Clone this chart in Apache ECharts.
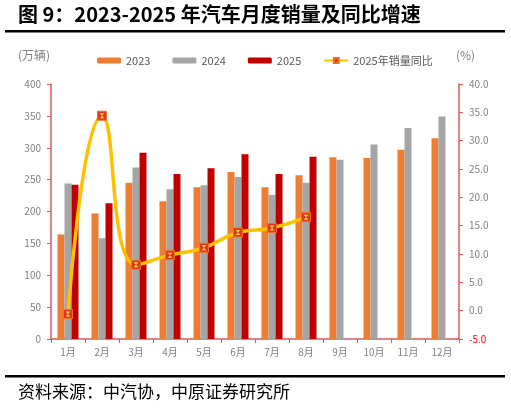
<!DOCTYPE html>
<html>
<head>
<meta charset="utf-8">
<script src="https://cdn.jsdelivr.net/npm/echarts@6/dist/echarts.min.js"></script>
<style>
html,body{margin:0;padding:0;background:#fff;}
#main{width:511px;height:409px;}
</style>
</head>
<body>
<div id="main"></div>
<script>
// 月份
var months = ['1月','2月','3月','4月','5月','6月','7月','8月','9月','10月','11月','12月'];
// 销量（万辆）
var sales2023 = [164, 197, 245, 216, 238, 262, 238, 257, 285, 284, 297, 315];
var sales2024 = [244, 158, 269, 235, 241, 254, 226, 245, 281, 305, 331, 349];
var sales2025 = [242, 213, 292, 259, 268, 290, 259, 286, null, null, null, null];
// 2025年销量同比（%）
var yoy2025 = [-0.6, 34.4, 8.1, 9.8, 11.1, 13.8, 14.6, 16.5];

var axisRed = '#DA5A5A';
var labelGray = '#7F7F7F';
var fontCJK = '"Noto Sans CJK SC", "Noto Sans", sans-serif';

var chart = echarts.init(document.getElementById('main'));

var option = {
    animation: false,
    textStyle: {fontFamily: fontCJK},
    grid: {left: 51, right: 52, top: 84, bottom: 70},
    legend: {
        data: ['2023', '2024', '2025', '2025年销量同比'],
        left: 92, top: 50,
        itemWidth: 24, itemHeight: 6, itemGap: 22,
        textStyle: {fontSize: 11, color: '#595959', fontFamily: fontCJK}
    },
    graphic: [
        {type: 'text', left: 18, top: 4, style: {text: '图 9：2023-2025 年汽车月度销量及同比增速', font: 'bold 20px ' + fontCJK, fill: '#000'}},
        {type: 'rect', shape: {x: 5, y: 30, width: 500, height: 2.5}, style: {fill: '#000'}},
        {type: 'text', left: 18, top: 49, style: {text: '(万辆)', font: '12px ' + fontCJK, fill: '#7F7F7F'}},
        {type: 'text', left: 456, top: 49, style: {text: '(%)', font: '12px ' + fontCJK, fill: '#7F7F7F'}},
        {type: 'rect', shape: {x: 5, y: 375, width: 500, height: 2.5}, style: {fill: '#000'}},
        {type: 'text', left: 18, top: 383, style: {text: '资料来源：中汽协，中原证券研究所', font: '17px ' + fontCJK, fill: '#000'}}
    ],
    xAxis: {
        type: 'category',
        data: months,
        axisLine: {lineStyle: {color: axisRed, width: 1.5}},
        axisTick: {show: true, length: 4, lineStyle: {color: axisRed}},
        axisLabel: {color: labelGray, fontSize: 10, margin: 8}
    },
    yAxis: [
        {
            type: 'value', min: 0, max: 400, interval: 50,
            axisLine: {show: true, lineStyle: {color: axisRed, width: 1.5}},
            axisTick: {show: true, length: 4, lineStyle: {color: axisRed}},
            splitLine: {show: false},
            axisLabel: {color: labelGray, fontSize: 10, margin: 10}
        },
        {
            type: 'value', min: -5, max: 40, interval: 5,
            axisLine: {show: true, lineStyle: {color: axisRed, width: 1.5}},
            axisTick: {show: true, length: 4, lineStyle: {color: axisRed}},
            splitLine: {show: false},
            axisLabel: {
                fontSize: 10, margin: 10,
                formatter: function (v) {
                    return v < 0 ? '{neg|' + v.toFixed(1) + '}' : '{pos|' + v.toFixed(1) + '}';
                },
                rich: {
                    neg: {color: '#FF0000', fontSize: 10},
                    pos: {color: labelGray, fontSize: 10}
                }
            }
        }
    ],
    series: [
        {name: '2023', type: 'bar', data: sales2023, barWidth: 7, barGap: '0%', itemStyle: {color: '#ED7D31'}},
        {name: '2024', type: 'bar', data: sales2024, barWidth: 7, barGap: '0%', itemStyle: {color: '#A5A5A5'}},
        {name: '2025', type: 'bar', data: sales2025, barWidth: 7, barGap: '0%', itemStyle: {color: '#C00000'}},
        {
            name: '2025年销量同比', type: 'line', yAxisIndex: 1, data: yoy2025,
            smooth: 0.5,
            lineStyle: {color: '#FFC000', width: 3.5},
            symbol: 'rect', symbolSize: 9,
            itemStyle: {color: '#E0361E', borderColor: '#F07020', borderWidth: 1}
        },
        {
            name: 'yoyMark', type: 'line', yAxisIndex: 1, data: yoy2025,
            lineStyle: {width: 0, opacity: 0},
            symbol: 'path://M0,0L10,0L5,5L10,10L0,10L5,5Z', symbolSize: 5,
            itemStyle: {color: '#FFD24A'},
            silent: true, z: 4
        }
    ]
};

chart.setOption(option);
</script>
</body>
</html>
